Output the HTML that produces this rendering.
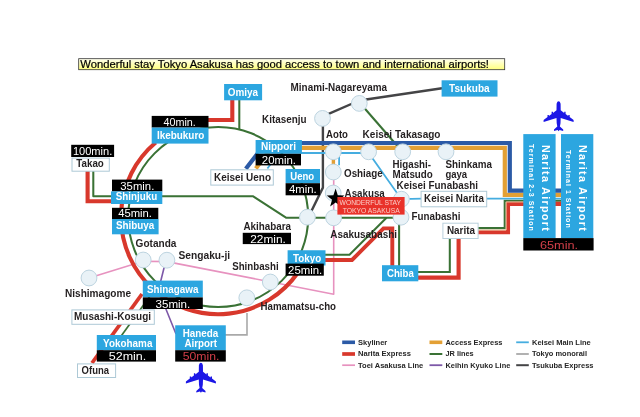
<!DOCTYPE html>
<html lang="en"><head><meta charset="utf-8"><title>Access map</title>
<style>
html,body{margin:0;padding:0;background:#fff;}
body{width:640px;height:417px;overflow:hidden;}
svg{display:block;font-family:"Liberation Sans",sans-serif;filter:blur(0.35px);}
</style></head><body>
<svg width="640" height="417" viewBox="0 0 640 417">
<rect width="640" height="417" fill="#fff"/>
<path d="M89,278 L143.1,261.3 L166.9,261.6 L333.7,294.2 L333.7,172" fill="none" stroke="#e792bf" stroke-width="1.6" stroke-linejoin="round"/>
<path d="M166,260 L160.5,282 M164.7,306 L176,334" fill="none" stroke="#7d58a8" stroke-width="1.6" />
<path d="M224,334.9 L247,334.9 L247,313" fill="none" stroke="#a9a9a9" stroke-width="1.6" />
<path d="M442,88.2 L359.3,100.5 L322.9,116.4 L322.9,187.6 L309,216" fill="none" stroke="#444446" stroke-width="2.4" stroke-linejoin="round"/>
<circle cx="218.2" cy="217.0" r="90.0" fill="none" stroke="#3a7235" stroke-width="2.05"/>
<path d="M239.3,100 L239.3,130" fill="none" stroke="#3a7235" stroke-width="2.05" />
<path d="M93.3,171 L93.3,196.3 L253.2,196.3 L286,217.7 L399,217.8" fill="none" stroke="#3a7235" stroke-width="2.05" stroke-linejoin="round"/>
<path d="M360.4,103.5 L402.6,152" fill="none" stroke="#3a7235" stroke-width="2.05" />
<path d="M386.5,217.8 L349.5,254.8 L325,254.8" fill="none" stroke="#3a7235" stroke-width="2.05" />
<path d="M399.1,218 L399.1,266 M418,271.9 L449.8,271.9 L449.8,238 M477,228.1 L504.7,228.1 L504.7,200.8 L524,200.8 M555,200.8 L561,200.8" fill="none" stroke="#3a7235" stroke-width="2.05" />
<path d="M151.5,294 L119,339" fill="none" stroke="#3a7235" stroke-width="1.7" />
<path d="M155.72,142.54 A97.2,97.2 0 1 0 297.82,272.75" fill="none" stroke="#d8382c" stroke-width="4.1" />
<path d="M232.3,100 L232.3,120 L205,120" fill="none" stroke="#d8382c" stroke-width="4.1" />
<path d="M87.6,171 L87.6,201.2 L112,201.2" fill="none" stroke="#d8382c" stroke-width="4.1" />
<path d="M142,294 L92,363" fill="none" stroke="#d8382c" stroke-width="3.8" />
<path d="M325,260 L352,260 L383.5,228.4 L392.3,228.4 L392.3,266" fill="none" stroke="#d8382c" stroke-width="3.9" />
<path d="M418,277.6 L458.6,277.6 L458.6,238 M477,232.3 L508,232.3 L508,203.9 L524,203.9 M555,203.9 L561,203.9" fill="none" stroke="#d8382c" stroke-width="4.1" />
<path d="M477,230 L506.2,230 L506.2,202 L524,202" fill="none" stroke="#f3c79a" stroke-width="0.9" />
<path d="M267.4,168.5 L278.2,154 M301,153 L368.7,153 L401.4,199.2 L422,198.7 M486,198.7 L524,198.7 M555,198.7 L561,198.7" fill="none" stroke="#45ade0" stroke-width="1.8" />
<path d="M339.1,153 L339.1,165.3" fill="none" stroke="#45ade0" stroke-width="1.8" />
<path d="M255.8,168.5 L268.3,152 M301,147.9 L504.8,147.9 L504.8,194.8 L524,194.8 M555,194.8 L561,194.8" fill="none" stroke="#e3a035" stroke-width="4.2" />
<path d="M333.4,152 L333.4,172" fill="none" stroke="#e3a035" stroke-width="3.4" />
<path d="M245.8,168.8 L258,153 M301,143 L509.8,143 L509.8,190.6 L524,190.6 M555,190.6 L561,190.6" fill="none" stroke="#2b5aa6" stroke-width="4.2" />
<circle cx="89" cy="278" r="7.9" fill="#e9f2f7" stroke="#bdd4e0" stroke-width="1"/>
<circle cx="143.2" cy="260" r="7.9" fill="#e9f2f7" stroke="#bdd4e0" stroke-width="1"/>
<circle cx="166.9" cy="260.2" r="7.9" fill="#e9f2f7" stroke="#bdd4e0" stroke-width="1"/>
<circle cx="322.5" cy="118.4" r="7.9" fill="#e9f2f7" stroke="#bdd4e0" stroke-width="1"/>
<circle cx="359.3" cy="103.4" r="7.9" fill="#e9f2f7" stroke="#bdd4e0" stroke-width="1"/>
<circle cx="333.3" cy="151.8" r="7.9" fill="#e9f2f7" stroke="#bdd4e0" stroke-width="1"/>
<circle cx="368.6" cy="151.8" r="7.9" fill="#e9f2f7" stroke="#bdd4e0" stroke-width="1"/>
<circle cx="402.7" cy="151.8" r="7.9" fill="#e9f2f7" stroke="#bdd4e0" stroke-width="1"/>
<circle cx="446" cy="151.8" r="7.9" fill="#e9f2f7" stroke="#bdd4e0" stroke-width="1"/>
<circle cx="333.3" cy="172" r="7.9" fill="#e9f2f7" stroke="#bdd4e0" stroke-width="1"/>
<circle cx="333.2" cy="193" r="7.9" fill="#e9f2f7" stroke="#bdd4e0" stroke-width="1"/>
<circle cx="307.4" cy="217.2" r="7.9" fill="#e9f2f7" stroke="#bdd4e0" stroke-width="1"/>
<circle cx="333.6" cy="217.8" r="7.9" fill="#e9f2f7" stroke="#bdd4e0" stroke-width="1"/>
<circle cx="401.4" cy="199.2" r="7.9" fill="#e9f2f7" stroke="#bdd4e0" stroke-width="1"/>
<circle cx="401" cy="217.2" r="7.9" fill="#e9f2f7" stroke="#bdd4e0" stroke-width="1"/>
<circle cx="270.3" cy="282" r="7.9" fill="#e9f2f7" stroke="#bdd4e0" stroke-width="1"/>
<circle cx="246.8" cy="297.8" r="7.9" fill="#e9f2f7" stroke="#bdd4e0" stroke-width="1"/>
<rect x="224.1" y="84" width="38.00" height="16.30" fill="#2ca6e0"/>
<text x="227.7" y="95.7" font-size="10" font-weight="bold" fill="#fff" textLength="30.3" lengthAdjust="spacingAndGlyphs">Omiya</text>
<rect x="151.7" y="115.9" width="56.80" height="11.70" fill="#000"/>
<text x="163.4" y="125.9" font-size="11" font-weight="normal" fill="#fff" textLength="32.4" lengthAdjust="spacingAndGlyphs">40min.</text>
<rect x="151.7" y="127.6" width="56.80" height="16.00" fill="#2ca6e0"/>
<text x="156.9" y="138.6" font-size="10" font-weight="bold" fill="#fff" textLength="47.5" lengthAdjust="spacingAndGlyphs">Ikebukuro</text>
<rect x="71.2" y="144.8" width="42.90" height="12.20" fill="#000"/>
<text x="72.9" y="155.1" font-size="11" font-weight="normal" fill="#fff" textLength="39.4" lengthAdjust="spacingAndGlyphs">100min.</text>
<rect x="72.0" y="158.1" width="37.30" height="13.10" fill="#fff" stroke="#adc9d6" stroke-width="1"/>
<text x="76.3" y="167.2" font-size="10" font-weight="bold" fill="#231f20" textLength="27.5" lengthAdjust="spacingAndGlyphs">Takao</text>
<rect x="112" y="179.6" width="50.30" height="11.80" fill="#000"/>
<text x="120.3" y="189.6" font-size="11.3" font-weight="normal" fill="#fff" textLength="34.0" lengthAdjust="spacingAndGlyphs">35min.</text>
<rect x="111" y="191.4" width="51.30" height="12.60" fill="#2ca6e0"/>
<text x="115.8" y="200" font-size="10" font-weight="bold" fill="#fff" textLength="41.5" lengthAdjust="spacingAndGlyphs">Shinjuku</text>
<rect x="112" y="207.8" width="46.30" height="11.20" fill="#000"/>
<text x="118.2" y="217.3" font-size="11.3" font-weight="normal" fill="#fff" textLength="33.8" lengthAdjust="spacingAndGlyphs">45min.</text>
<rect x="112" y="219" width="46.60" height="15.30" fill="#2ca6e0"/>
<text x="115.9" y="229.2" font-size="10" font-weight="bold" fill="#fff" textLength="38.4" lengthAdjust="spacingAndGlyphs">Shibuya</text>
<rect x="142.8" y="280.6" width="60.00" height="16.80" fill="#2ca6e0"/>
<text x="146.9" y="292.9" font-size="10" font-weight="bold" fill="#fff" textLength="51.5" lengthAdjust="spacingAndGlyphs">Shinagawa</text>
<rect x="142.8" y="297.4" width="60.00" height="11.60" fill="#000"/>
<text x="155.5" y="307.5" font-size="11.3" font-weight="normal" fill="#fff" textLength="34.8" lengthAdjust="spacingAndGlyphs">35min.</text>
<rect x="71.9" y="309.9" width="82.40" height="14.40" fill="#fff" stroke="#adc9d6" stroke-width="1"/>
<text x="74" y="320.1" font-size="10" font-weight="bold" fill="#231f20" textLength="77.0" lengthAdjust="spacingAndGlyphs">Musashi-Kosugi</text>
<rect x="96.8" y="335" width="59.20" height="15.20" fill="#2ca6e0"/>
<text x="103.1" y="346.6" font-size="10" font-weight="bold" fill="#fff" textLength="49.3" lengthAdjust="spacingAndGlyphs">Yokohama</text>
<rect x="96.8" y="350.2" width="59.20" height="11.40" fill="#000"/>
<text x="108.8" y="360.2" font-size="11.6" font-weight="normal" fill="#fff" textLength="37.5" lengthAdjust="spacingAndGlyphs">52min.</text>
<rect x="77.5" y="363.9" width="38.10" height="13.60" fill="#fff" stroke="#adc9d6" stroke-width="1"/>
<text x="81.6" y="374.3" font-size="10" font-weight="bold" fill="#231f20" textLength="27.4" lengthAdjust="spacingAndGlyphs">Ofuna</text>
<rect x="175.2" y="325.3" width="50.60" height="24.90" fill="#2ca6e0"/>
<text x="182.7" y="337.2" font-size="10" font-weight="bold" fill="#fff" textLength="35.6" lengthAdjust="spacingAndGlyphs">Haneda</text>
<text x="184.5" y="347.4" font-size="10" font-weight="bold" fill="#fff" textLength="32.5" lengthAdjust="spacingAndGlyphs">Airport</text>
<rect x="175.2" y="350.2" width="50.60" height="11.40" fill="#000"/>
<text x="182.7" y="359.7" font-size="11.5" font-weight="normal" fill="#d23f49" textLength="36.7" lengthAdjust="spacingAndGlyphs">50min.</text>
<rect x="255.6" y="140" width="46.30" height="13.80" fill="#2ca6e0"/>
<text x="260.9" y="150.4" font-size="10" font-weight="bold" fill="#fff" textLength="35.1" lengthAdjust="spacingAndGlyphs">Nippori</text>
<rect x="255.6" y="153.8" width="45.40" height="11.60" fill="#000"/>
<text x="261.8" y="164.1" font-size="11.3" font-weight="normal" fill="#fff" textLength="34.2" lengthAdjust="spacingAndGlyphs">20min.</text>
<rect x="210.8" y="169.8" width="62.50" height="15.30" fill="#fff" stroke="#adc9d6" stroke-width="1"/>
<text x="214" y="180.9" font-size="10" font-weight="bold" fill="#231f20" textLength="57.0" lengthAdjust="spacingAndGlyphs">Keisei Ueno</text>
<rect x="285.6" y="169" width="34.40" height="14.20" fill="#2ca6e0"/>
<text x="290.3" y="180.3" font-size="10" font-weight="bold" fill="#fff" textLength="23.9" lengthAdjust="spacingAndGlyphs">Ueno</text>
<rect x="285.6" y="183.2" width="34.40" height="12.10" fill="#000"/>
<text x="289" y="193.1" font-size="11.3" font-weight="normal" fill="#fff" textLength="27.7" lengthAdjust="spacingAndGlyphs">4min.</text>
<text x="243.5" y="229.6" font-size="10" font-weight="bold" fill="#231f20" textLength="47.5" lengthAdjust="spacingAndGlyphs">Akihabara</text>
<rect x="242.75" y="232.8" width="48.25" height="11.30" fill="#000"/>
<text x="250.25" y="242.75" font-size="11.3" font-weight="normal" fill="#fff" textLength="35.6" lengthAdjust="spacingAndGlyphs">22min.</text>
<rect x="287.6" y="250.25" width="37.90" height="15.25" fill="#2ca6e0"/>
<text x="293.1" y="261.9" font-size="10" font-weight="bold" fill="#fff" textLength="28.2" lengthAdjust="spacingAndGlyphs">Tokyo</text>
<rect x="285.6" y="263.6" width="38.20" height="12.10" fill="#000"/>
<text x="288.1" y="273.7" font-size="11.3" font-weight="normal" fill="#fff" textLength="34.2" lengthAdjust="spacingAndGlyphs">25min.</text>
<rect x="382" y="265.2" width="36.30" height="16.10" fill="#2ca6e0"/>
<text x="387" y="276.7" font-size="10" font-weight="bold" fill="#fff" textLength="26.8" lengthAdjust="spacingAndGlyphs">Chiba</text>
<rect x="441.6" y="80.3" width="55.90" height="16.30" fill="#2ca6e0"/>
<text x="449.1" y="91.6" font-size="10" font-weight="bold" fill="#fff" textLength="40.5" lengthAdjust="spacingAndGlyphs">Tsukuba</text>
<rect x="421.1" y="191.3" width="65.60" height="15.50" fill="#fff" stroke="#adc9d6" stroke-width="1"/>
<text x="424" y="202.1" font-size="10" font-weight="bold" fill="#231f20" textLength="59.9" lengthAdjust="spacingAndGlyphs">Keisei Narita</text>
<rect x="442.9" y="223.2" width="35.20" height="15.30" fill="#fff" stroke="#b9d0dc" stroke-width="1"/>
<text x="446.9" y="233.5" font-size="10" font-weight="bold" fill="#231f20" textLength="28.1" lengthAdjust="spacingAndGlyphs">Narita</text>
<rect x="523.3" y="134.1" width="32.30" height="104.00" fill="#2ca6e0"/>
<text transform="translate(541.6999999999999,144.9) rotate(90)" font-size="10.8" font-weight="bold" fill="#fff" textLength="85.9" lengthAdjust="spacing">Narita Airport</text>
<text transform="translate(528.6999999999999,144) rotate(90)" font-size="7" font-weight="bold" fill="#fff" textLength="86.8" lengthAdjust="spacing">Terminal 2-3 Station</text>
<rect x="561" y="134.1" width="32.30" height="104.00" fill="#2ca6e0"/>
<text transform="translate(579.4,144.9) rotate(90)" font-size="10.8" font-weight="bold" fill="#fff" textLength="85.9" lengthAdjust="spacing">Narita Airport</text>
<text transform="translate(566.4,150) rotate(90)" font-size="7" font-weight="bold" fill="#fff" textLength="77.7" lengthAdjust="spacing">Terminal 1 Station</text>
<rect x="523.3" y="238.1" width="70.30" height="12.40" fill="#000"/>
<text x="540" y="248.7" font-size="11.5" font-weight="normal" fill="#d23f49" textLength="38.1" lengthAdjust="spacingAndGlyphs">65min.</text>
<text x="135.6" y="247.2" font-size="10" font-weight="bold" fill="#231f20" textLength="40.8" lengthAdjust="spacingAndGlyphs">Gotanda</text>
<text x="178.5" y="258.7" font-size="10" font-weight="bold" fill="#231f20" textLength="51.7" lengthAdjust="spacingAndGlyphs">Sengaku-ji</text>
<text x="65" y="297" font-size="10" font-weight="bold" fill="#231f20" textLength="66.0" lengthAdjust="spacingAndGlyphs">Nishimagome</text>
<text x="262.1" y="122.8" font-size="10" font-weight="bold" fill="#231f20" textLength="44.5" lengthAdjust="spacingAndGlyphs">Kitasenju</text>
<text x="290.6" y="91.1" font-size="10" font-weight="bold" fill="#231f20" textLength="96.4" lengthAdjust="spacingAndGlyphs">Minami-Nagareyama</text>
<text x="326.1" y="137.5" font-size="10" font-weight="bold" fill="#231f20" textLength="21.9" lengthAdjust="spacingAndGlyphs">Aoto</text>
<text x="362.6" y="137.5" font-size="10" font-weight="bold" fill="#231f20" textLength="77.9" lengthAdjust="spacingAndGlyphs">Keisei Takasago</text>
<text x="344" y="176.7" font-size="10" font-weight="bold" fill="#231f20" textLength="38.8" lengthAdjust="spacingAndGlyphs">Oshiage</text>
<text x="344.6" y="197.1" font-size="10" font-weight="bold" fill="#231f20" textLength="40.2" lengthAdjust="spacingAndGlyphs">Asakusa</text>
<text x="392.5" y="167.8" font-size="10" font-weight="bold" fill="#231f20" textLength="38.5" lengthAdjust="spacingAndGlyphs">Higashi-</text>
<text x="392.5" y="177.9" font-size="10" font-weight="bold" fill="#231f20" textLength="40.3" lengthAdjust="spacingAndGlyphs">Matsudo</text>
<text x="445.4" y="168.3" font-size="10" font-weight="bold" fill="#231f20" textLength="46.5" lengthAdjust="spacingAndGlyphs">Shinkama</text>
<text x="445.4" y="177.9" font-size="10" font-weight="bold" fill="#231f20" textLength="21.7" lengthAdjust="spacingAndGlyphs">gaya</text>
<text x="396.6" y="189.1" font-size="10" font-weight="bold" fill="#231f20" textLength="81.4" lengthAdjust="spacingAndGlyphs">Keisei Funabashi</text>
<text x="411.5" y="220.4" font-size="10" font-weight="bold" fill="#231f20" textLength="49.0" lengthAdjust="spacingAndGlyphs">Funabashi</text>
<text x="330.3" y="237.6" font-size="10" font-weight="bold" fill="#231f20" textLength="66.7" lengthAdjust="spacingAndGlyphs">Asakusabashi</text>
<text x="232.2" y="269.6" font-size="10" font-weight="bold" fill="#231f20" textLength="46.4" lengthAdjust="spacingAndGlyphs">Shinbashi</text>
<text x="260.5" y="310" font-size="10" font-weight="bold" fill="#231f20" textLength="75.5" lengthAdjust="spacingAndGlyphs">Hamamatsu-cho</text>
<polygon points="335.60,188.50 337.79,195.26 344.44,195.41 339.14,199.74 341.07,206.59 335.60,202.50 330.13,206.59 332.06,199.74 326.76,195.41 333.41,195.26" fill="#000"/>
<rect x="337.4" y="197" width="67.2" height="17.6" fill="#e9322a"/>
<text x="339.6" y="204.5" font-size="7" fill="#fbcdc7" textLength="61.4" lengthAdjust="spacingAndGlyphs">WONDERFUL STAY</text>
<text x="342.7" y="212.8" font-size="7" fill="#fbcdc7" textLength="57" lengthAdjust="spacingAndGlyphs">TOKYO ASAKUSA</text>
<polygon points="558.6,101.3 559.8,101.7 560.6,103.8 560.7,110.3 564.2,112.9 564.2,111.7 565.6,111.7 565.6,113.9 568.3,115.9 568.3,114.9 569.7,114.9 569.7,117.1 573.6,120.1 573.6,121.9 560.7,117.9 560.5,123.3 559.9,126.5 563.2,129.6 563.2,131.1 559.6,129.9 558.6,131.3 558.6,131.3 557.6,129.9 554.0,131.1 554.0,129.6 557.3,126.5 556.7,123.3 556.5,117.9 543.6,121.9 543.6,120.1 547.5,117.1 547.5,114.9 548.9,114.9 548.9,115.9 551.6,113.9 551.6,111.7 553.0,111.7 553.0,112.9 556.5,110.3 556.6,103.8 557.4,101.7 558.6,101.3" fill="#1c17e6"/>
<polygon points="200.9,362.8 202.1,363.2 202.9,365.3 203.0,371.8 206.5,374.4 206.5,373.2 207.9,373.2 207.9,375.4 210.6,377.4 210.6,376.4 212.0,376.4 212.0,378.6 215.9,381.6 215.9,383.4 203.0,379.4 202.8,384.8 202.2,388.0 205.5,391.1 205.5,392.6 201.9,391.4 200.9,392.8 200.9,392.8 199.9,391.4 196.3,392.6 196.3,391.1 199.6,388.0 199.0,384.8 198.8,379.4 185.9,383.4 185.9,381.6 189.8,378.6 189.8,376.4 191.2,376.4 191.2,377.4 193.9,375.4 193.9,373.2 195.3,373.2 195.3,374.4 198.8,371.8 198.9,365.3 199.7,363.2 200.9,362.8" fill="#1c17e6"/>
<defs><linearGradient id="yg" x1="0" y1="0" x2="0" y2="1"><stop offset="0" stop-color="#fffff2"/><stop offset="1" stop-color="#ffff7a"/></linearGradient></defs>
<rect x="78.7" y="58.7" width="426" height="11" fill="url(#yg)" stroke="#333" stroke-width="0.8"/>
<text x="80.3" y="67.9" font-size="10.6" fill="#000" stroke="#000" stroke-width="0.2" textLength="408.7" lengthAdjust="spacingAndGlyphs">Wonderful stay Tokyo Asakusa has good access to town and international airports!</text>
<line x1="342.2" y1="342.3" x2="355" y2="342.3" stroke="#2b5aa6" stroke-width="3.6"/>
<text x="358" y="344.9" font-size="7.2" font-weight="bold" fill="#262626" textLength="29.3" lengthAdjust="spacingAndGlyphs">Skyliner</text>
<line x1="342.2" y1="354.0" x2="355" y2="354.0" stroke="#d8382c" stroke-width="3.7"/>
<text x="358" y="356.2" font-size="7.2" font-weight="bold" fill="#262626" textLength="53" lengthAdjust="spacingAndGlyphs">Narita Express</text>
<line x1="342.2" y1="365.2" x2="355" y2="365.2" stroke="#e792bf" stroke-width="1.7"/>
<text x="358" y="367.5" font-size="7.2" font-weight="bold" fill="#262626" textLength="65.3" lengthAdjust="spacingAndGlyphs">Toei Asakusa Line</text>
<line x1="429.5" y1="342.3" x2="442.3" y2="342.3" stroke="#e3a035" stroke-width="3.6"/>
<text x="445.5" y="344.9" font-size="7.2" font-weight="bold" fill="#262626" textLength="57" lengthAdjust="spacingAndGlyphs">Access Express</text>
<line x1="429.5" y1="354.0" x2="442.3" y2="354.0" stroke="#3a7235" stroke-width="2"/>
<text x="445.5" y="356.2" font-size="7.2" font-weight="bold" fill="#262626" textLength="28.2" lengthAdjust="spacingAndGlyphs">JR lines</text>
<line x1="429.5" y1="365.2" x2="442.3" y2="365.2" stroke="#7d58a8" stroke-width="1.8"/>
<text x="445.5" y="367.5" font-size="7.2" font-weight="bold" fill="#262626" textLength="64.8" lengthAdjust="spacingAndGlyphs">Keihin Kyuko Line</text>
<line x1="516.2" y1="342.3" x2="528.8" y2="342.3" stroke="#45ade0" stroke-width="1.8"/>
<text x="532" y="344.9" font-size="7.2" font-weight="bold" fill="#262626" textLength="58.8" lengthAdjust="spacingAndGlyphs">Keisei Main Line</text>
<line x1="516.2" y1="354.0" x2="528.8" y2="354.0" stroke="#a9a9a9" stroke-width="1.8"/>
<text x="532" y="356.2" font-size="7.2" font-weight="bold" fill="#262626" textLength="55" lengthAdjust="spacingAndGlyphs">Tokyo monorail</text>
<line x1="516.2" y1="365.2" x2="528.8" y2="365.2" stroke="#444446" stroke-width="2"/>
<text x="532" y="367.5" font-size="7.2" font-weight="bold" fill="#262626" textLength="61.5" lengthAdjust="spacingAndGlyphs">Tsukuba Express</text>
</svg>
</body></html>
